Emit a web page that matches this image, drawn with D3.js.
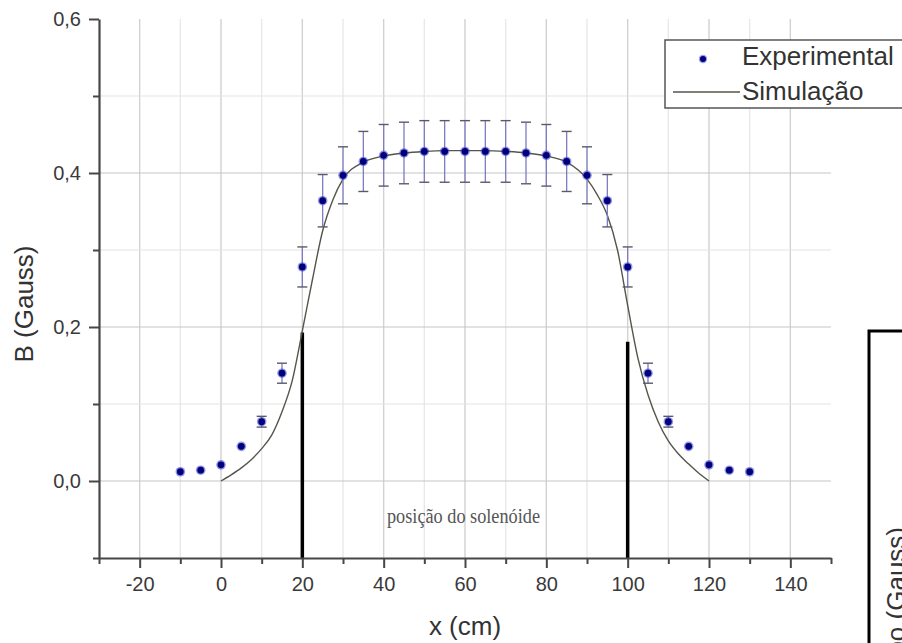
<!DOCTYPE html>
<html>
<head>
<meta charset="utf-8">
<script src="https://cdn.jsdelivr.net/npm/d3@7"></script>
<style>
  html, body { margin: 0; padding: 0; background: #fff; }
  svg { display: block; font-family: "Liberation Sans", Arial, sans-serif; }
</style>
</head>
<body>
<svg id="chart" width="902" height="643"></svg>
<script>
// ---- data ----
const xExp = [-10, -5, 0, 5, 10, 15, 20, 25, 30, 35, 40, 45, 50, 55, 60, 65, 70, 75, 80, 85, 90, 95, 100, 105, 110, 115, 120, 125, 130];
const bExp = [0.012, 0.014, 0.021, 0.045, 0.077, 0.140, 0.278, 0.364, 0.397, 0.415, 0.423, 0.426, 0.428, 0.428, 0.428, 0.428, 0.428, 0.426, 0.423, 0.415, 0.397, 0.364, 0.278, 0.140, 0.077, 0.045, 0.021, 0.014, 0.012];
const errExp = [0.001, 0.001, 0.002, 0.004, 0.007, 0.013, 0.026, 0.034, 0.037, 0.039, 0.040, 0.040, 0.040, 0.040, 0.040, 0.040, 0.040, 0.040, 0.040, 0.039, 0.037, 0.034, 0.026, 0.013, 0.007, 0.004, 0.002, 0.001, 0.001];

const xSim = [0, 2.5, 5, 7.5, 10, 12.5, 15, 17.5, 20, 22.5, 25, 27.5, 30, 35, 40, 45, 50, 55, 60, 65, 70, 75, 80, 85, 90, 92.5, 95, 97.5, 100, 102.5, 105, 107.5, 110, 112.5, 115, 117.5, 120];
const bSim = [0.000, 0.008, 0.017, 0.028, 0.042, 0.060, 0.090, 0.130, 0.195, 0.262, 0.325, 0.365, 0.392, 0.414, 0.422, 0.426, 0.428, 0.429, 0.429, 0.429, 0.428, 0.426, 0.422, 0.414, 0.392, 0.372, 0.345, 0.300, 0.228, 0.160, 0.112, 0.077, 0.052, 0.035, 0.022, 0.010, 0.000];

const solenoidX = [20, 100];
const solenoidTop = [0.193, 0.181];

const xMajor = [-20, 0, 20, 40, 60, 80, 100, 120, 140];
const xMinor = [-30, -10, 10, 30, 50, 70, 90, 110, 130, 150];
const yMajor = [0.0, 0.2, 0.4, 0.6];
const yMinor = [-0.1, 0.1, 0.3, 0.5];
const xGrid = [-20, -10, 0, 10, 20, 30, 40, 50, 60, 70, 80, 90, 100, 110, 120, 130, 140];
const yGrid = [0.0, 0.1, 0.2, 0.3, 0.4, 0.5];

const legendLabels = ["Experimental", "Simulação"];
const xTitle = "x (cm)";
const yTitle = "B (Gauss)";
const annotation = "posição do solenóide";
const otherFigureTitle = "Campo (Gauss)";

// ---- drawing ----
const svg = d3.select("#chart");
const x = d3.scaleLinear().domain([-30, 150]).range([99, 831]);
const y = d3.scaleLinear().domain([-0.1, 0.6]).range([558, 19]);
const loc = d3.formatLocale({decimal: ",", thousands: ".", grouping: [3], currency: ["", ""], minus: "-"});
const fmtY = loc.format(".1f");
const fmtX = v => String(v);
const isMajorX = v => xMajor.includes(v);
const isMajorY = v => yMajor.some(m => Math.abs(m - v) < 1e-9);

// grid
const grid = svg.append("g");
grid.selectAll("line.v").data(xGrid).join("line")
  .attr("x1", d => x(d)).attr("x2", d => x(d))
  .attr("y1", y(0.6)).attr("y2", y(-0.1))
  .attr("stroke", d => isMajorX(d) ? "#d2d2d2" : "#e8e8e8")
  .attr("stroke-width", 1.4);
grid.selectAll("line.h").data(yGrid).join("line")
  .attr("x1", x(-30)).attr("x2", x(150))
  .attr("y1", d => y(d)).attr("y2", d => y(d))
  .attr("stroke", d => isMajorY(d) ? "#c6c6c6" : "#e4e4e4")
  .attr("stroke-width", 1.2);

// solenoid bars
svg.append("g").selectAll("line").data(solenoidX).join("line")
  .attr("x1", d => x(d)).attr("x2", d => x(d))
  .attr("y1", (d, i) => y(solenoidTop[i])).attr("y2", y(-0.1))
  .attr("stroke", "#000").attr("stroke-width", 3.5);

// simulation line
const simData = xSim.map((v, i) => [v, bSim[i]]);
svg.append("path").datum(simData)
  .attr("fill", "none").attr("stroke", "#55554c").attr("stroke-width", 1.4)
  .attr("d", d3.line().x(d => x(d[0])).y(d => y(d[1])).curve(d3.curveMonotoneX));

// error bars
const expData = xExp.map((v, i) => ({x: v, b: bExp[i], e: errExp[i]}));
const eb = svg.append("g");
eb.selectAll("line.stem").data(expData).join("line")
  .attr("x1", d => x(d.x)).attr("x2", d => x(d.x))
  .attr("y1", d => y(d.b + d.e)).attr("y2", d => y(d.b - d.e))
  .attr("stroke", "#7c7cc0").attr("stroke-width", 1.3);
eb.selectAll("line.capT").data(expData.filter(d => d.e > 0.005)).join("line")
  .attr("x1", d => x(d.x) - 5).attr("x2", d => x(d.x) + 5)
  .attr("y1", d => y(d.b + d.e)).attr("y2", d => y(d.b + d.e))
  .attr("stroke", "#5a5a6a").attr("stroke-width", 1.4);
eb.selectAll("line.capB").data(expData.filter(d => d.e > 0.005)).join("line")
  .attr("x1", d => x(d.x) - 5).attr("x2", d => x(d.x) + 5)
  .attr("y1", d => y(d.b - d.e)).attr("y2", d => y(d.b - d.e))
  .attr("stroke", "#5a5a6a").attr("stroke-width", 1.4);

// markers
const mk = svg.append("g");
mk.selectAll("circle.halo").data(expData).join("circle")
  .attr("cx", d => x(d.x)).attr("cy", d => y(d.b)).attr("r", 4.8)
  .attr("fill", "#3a3ad8").attr("opacity", 0.55);
mk.selectAll("circle.core").data(expData).join("circle")
  .attr("cx", d => x(d.x)).attr("cy", d => y(d.b)).attr("r", 3.4)
  .attr("fill", "#00007a");

// axes
function styleAxis(g) {
  g.selectAll("path.domain").attr("stroke", "#474747").attr("stroke-width", 2.2);
  g.selectAll(".tick line").attr("stroke", "#474747").attr("stroke-width", 2);
  g.selectAll(".tick text").attr("fill", "#3a3a3a").attr("font-size", 20)
    .attr("font-family", "'Liberation Sans', Arial, sans-serif");
}
const gxMinor = svg.append("g").attr("transform", `translate(0,${y(-0.1)})`)
  .call(d3.axisBottom(x).tickValues(xMinor).tickSize(6).tickSizeOuter(0).tickFormat(""));
gxMinor.select("path.domain").remove();
styleAxis(gxMinor);
const gx = svg.append("g").attr("transform", `translate(0,${y(-0.1)})`)
  .call(d3.axisBottom(x).tickValues(xMajor).tickSize(10).tickSizeOuter(0).tickPadding(9).tickFormat(fmtX));
styleAxis(gx);
gx.selectAll(".tick text").attr("dy", "0.72em");

const gyMinor = svg.append("g").attr("transform", `translate(${x(-30)},0)`)
  .call(d3.axisLeft(y).tickValues(yMinor).tickSize(6).tickSizeOuter(0).tickFormat(""));
gyMinor.select("path.domain").remove();
styleAxis(gyMinor);
const gy = svg.append("g").attr("transform", `translate(${x(-30)},0)`)
  .call(d3.axisLeft(y).tickValues(yMajor).tickSize(10).tickSizeOuter(0).tickPadding(8).tickFormat(fmtY));
styleAxis(gy);

// axis titles
svg.append("text").attr("x", 465).attr("y", 635).attr("text-anchor", "middle")
  .attr("font-size", 26).attr("fill", "#333").text(xTitle);
svg.append("text").attr("transform", "translate(33,304) rotate(-90)").attr("text-anchor", "middle")
  .attr("font-size", 26).attr("fill", "#333").text(yTitle);

// annotation
svg.append("text").attr("x", 387).attr("y", 523)
  .attr("font-family", "'Liberation Serif', 'DejaVu Serif', serif").attr("font-size", 20)
  .attr("textLength", 153).attr("lengthAdjust", "spacingAndGlyphs")
  .attr("fill", "#555").text(annotation);

// legend
const lg = svg.append("g");
lg.append("rect").attr("x", 665).attr("y", 40).attr("width", 260).attr("height", 68)
  .attr("fill", "#fff").attr("stroke", "#555").attr("stroke-width", 1.5);
lg.append("circle").attr("cx", 703).attr("cy", 59).attr("r", 4.2).attr("fill", "#3a3ad8").attr("opacity", 0.5);
lg.append("circle").attr("cx", 703).attr("cy", 59).attr("r", 3).attr("fill", "#00007a");
lg.append("line").attr("x1", 673).attr("x2", 740).attr("y1", 92).attr("y2", 92)
  .attr("stroke", "#55554c").attr("stroke-width", 1.4);
lg.selectAll("text").data(legendLabels).join("text")
  .attr("x", 742).attr("y", (d, i) => i === 0 ? 65 : 100)
  .attr("font-size", 26).attr("fill", "#333").text(d => d);

// partial neighbouring figure at bottom right (cut off by the picture edge, as in the reference)
svg.append("rect").attr("x", 869).attr("y", 331).attr("width", 120).attr("height", 400)
  .attr("fill", "none").attr("stroke", "#000").attr("stroke-width", 3);
svg.append("text").attr("transform", "translate(905,527) rotate(-90)").attr("text-anchor", "end")
  .attr("font-size", 26).attr("fill", "#333").text(otherFigureTitle);
</script>
</body>
</html>
